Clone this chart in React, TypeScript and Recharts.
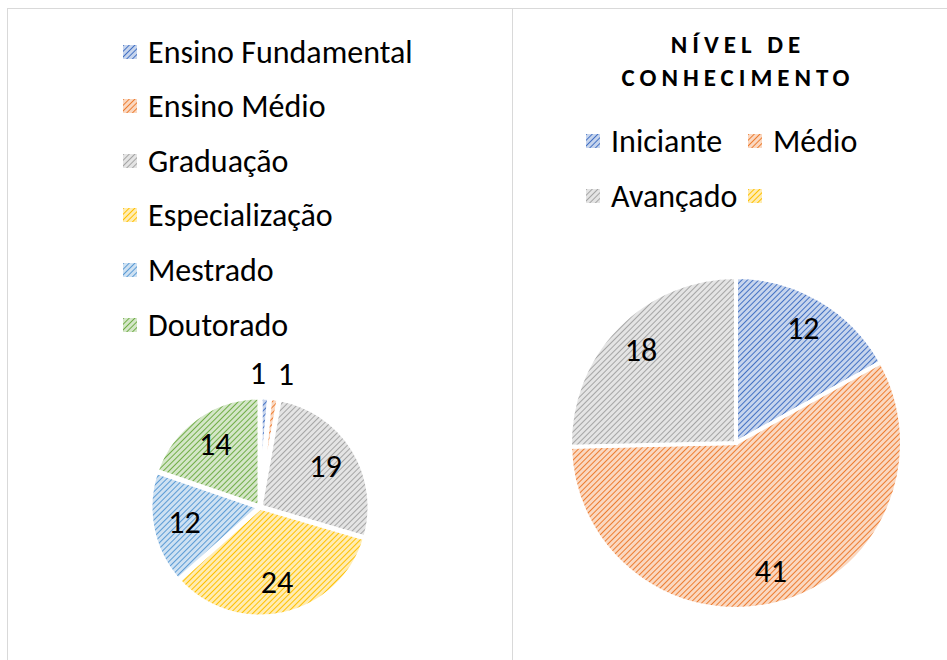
import React from "react";
import { PieChart, Pie, Cell } from "recharts";

// left chart: escolaridade
const schoolingLabels = ["Ensino Fundamental", "Ensino Médio", "Graduação", "Especialização", "Mestrado", "Doutorado"];
const schoolingValues = [1, 1, 19, 24, 12, 14];
const schoolingColors = ["#4472C4", "#ED7D31", "#A5A5A5", "#FFC000", "#5B9BD5", "#70AD47"];

// right chart: nivel de conhecimento
const levelTitle = ["NÍVEL DE", "CONHECIMENTO"];
const levelLabels = ["Iniciante", "Médio", "Avançado", ""];
const levelValues = [12, 41, 18, 0];
const levelColors = ["#4472C4", "#ED7D31", "#A5A5A5", "#FFC000"];

const FONT = "Calibri, Carlito, 'Open Sans', sans-serif";
const RAD = Math.PI / 180;

function tint(hex: string, amt: number) {
  const n = parseInt(hex.slice(1), 16);
  const r = (n >> 16) & 255, g = (n >> 8) & 255, b = n & 255;
  const m = (c: number) => Math.round(c + (255 - c) * amt);
  return `rgb(${m(r)},${m(g)},${m(b)})`;
}

const allColors = Array.from(new Set([...schoolingColors, ...levelColors]));
const patId = (c: string) => "hatch" + c.slice(1);

function Patterns() {
  return (
    <svg width={0} height={0} style={{ position: "absolute" }}>
      <defs>
        {allColors.map((c) => (
          <pattern key={c} id={patId(c)} width={4} height={4} patternUnits="userSpaceOnUse" patternTransform="rotate(45)">
            <rect width={4} height={4} fill={tint(c, 0.7)} />
            <line x1={0} y1={0} x2={0} y2={4} stroke={c} strokeWidth={2} />
          </pattern>
        ))}
      </defs>
    </svg>
  );
}

const makeLabel = (factor: number, smallOut: boolean) => (props: any) => {
  const { cx, cy, midAngle, outerRadius, value, index } = props;
  if (!value) return null;
  const small = smallOut && value < 3;
  const r = small ? outerRadius + 24 : outerRadius * factor;
  const x = cx + r * Math.cos(-midAngle * RAD);
  const y = cy + r * Math.sin(-midAngle * RAD);
  const anchor = small ? (index % 2 === 0 ? "end" : "start") : "middle";
  return (
    <text x={x} y={y} textAnchor={anchor} dominantBaseline="central" fill="#000" fontSize={32} fontFamily={FONT}>
      {value}
    </text>
  );
};

function LegendItem({ color, label, x, y }: { color: string; label: string; x: number; y: number }) {
  return (
    <div style={{ position: "absolute", left: x, top: y - 20, height: 40, display: "flex", alignItems: "center", whiteSpace: "nowrap" }}>
      <svg width={14} height={14} style={{ marginRight: 11 }}>
        <rect width={14} height={14} fill={`url(#${patId(color)})`} />
      </svg>
      <span style={{ fontFamily: FONT, fontSize: 32, color: "#000" }}>{label}</span>
    </div>
  );
}

export default function App() {
  const schoolingData = schoolingLabels.map((name, i) => ({ name, value: schoolingValues[i] }));
  const levelData = levelLabels.map((name, i) => ({ name, value: levelValues[i] })).filter((d) => d.value > 0);
  const legendRowsY = [52, 106, 161, 215, 270, 325];
  const levelLegendPos = [
    { x: 586, y: 141 },
    { x: 748, y: 141 },
    { x: 586, y: 196 },
    { x: 748, y: 196 },
  ];
  return (
    <div style={{ position: "absolute", left: 0, top: 0, width: 947, height: 660, overflow: "hidden", background: "#fff" }}>
      <Patterns />
      <div style={{ position: "absolute", left: 7, top: 8, width: 1000, height: 700, border: "1.5px solid #d9d9d9" }} />
      <div style={{ position: "absolute", left: 512, top: 8, width: 0, height: 700, borderLeft: "1.5px solid #d9d9d9" }} />

      {schoolingLabels.map((l, i) => (
        <LegendItem key={l} color={schoolingColors[i]} label={l} x={123} y={legendRowsY[i]} />
      ))}

      <div style={{ position: "absolute", left: 514, top: 28, width: 448, textAlign: "center", fontFamily: FONT, fontWeight: 700, fontSize: 25, letterSpacing: 5, lineHeight: "33px", color: "#000" }}>
        {levelTitle.map((t) => (
          <div key={t}>{t}</div>
        ))}
      </div>

      {levelLabels.map((l, i) => (
        <LegendItem key={i} color={levelColors[i]} label={l} x={levelLegendPos[i].x} y={levelLegendPos[i].y} />
      ))}

      <div style={{ position: "absolute", left: 0, top: 0 }}>
        <PieChart width={512} height={660} margin={{ top: 0, right: 0, bottom: 0, left: 0 }}>
          <Pie
            data={schoolingData}
            dataKey="value"
            cx={260}
            cy={507}
            outerRadius={110}
            startAngle={90}
            endAngle={-270}
            stroke="#fff"
            strokeWidth={5}
            labelLine={false}
            label={makeLabel(0.7, true)}
            isAnimationActive={false}
          >
            {schoolingData.map((d, i) => (
              <Cell key={d.name} fill={`url(#${patId(schoolingColors[i])})`} />
            ))}
          </Pie>
        </PieChart>
      </div>

      <div style={{ position: "absolute", left: 512, top: 0 }}>
        <PieChart width={435} height={660} margin={{ top: 0, right: 0, bottom: 0, left: 0 }}>
          <Pie
            data={levelData}
            dataKey="value"
            cx={224}
            cy={443}
            outerRadius={166}
            startAngle={90}
            endAngle={-270}
            stroke="#fff"
            strokeWidth={4}
            labelLine={false}
            label={makeLabel(0.8, false)}
            isAnimationActive={false}
          >
            {levelData.map((d, i) => (
              <Cell key={d.name} fill={`url(#${patId(levelColors[i])})`} />
            ))}
          </Pie>
        </PieChart>
      </div>
    </div>
  );
}
